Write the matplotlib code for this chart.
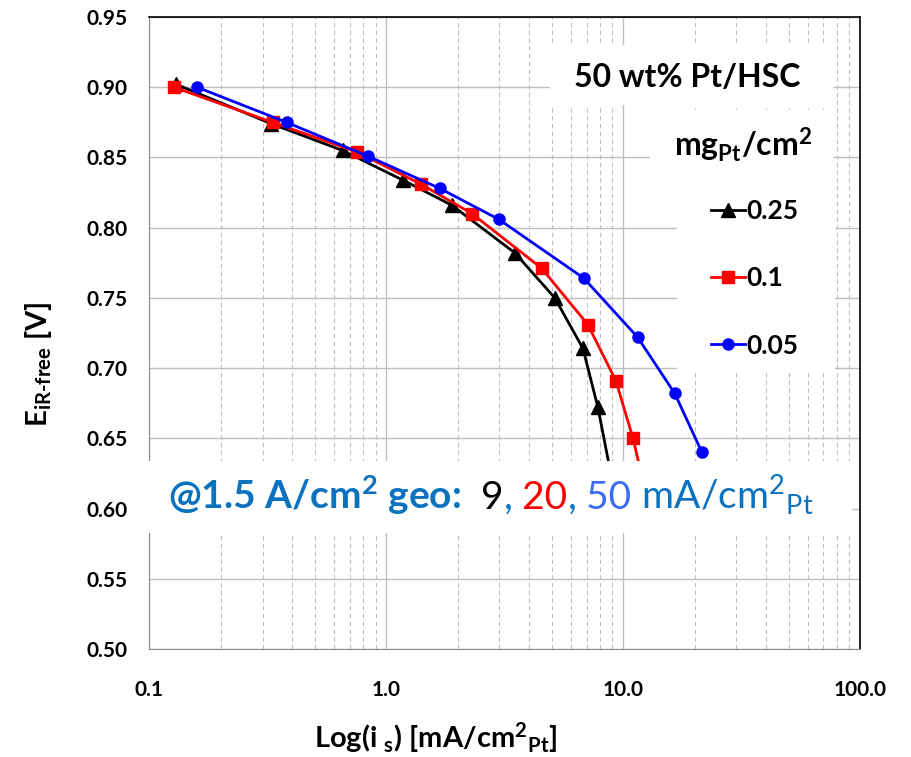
"""Tafel-type plot of iR-free voltage vs specific current, Pt/HSC loadings."""

import matplotlib

matplotlib.use("Agg")
import matplotlib.pyplot as plt
from matplotlib.patches import Rectangle

plt.rcParams["font.family"] = ["Lato", "DejaVu Sans"]
plt.rcParams["mathtext.default"] = "regular"

# data (mA/cm2_Pt, V)
is_025 = [0.130, 0.327, 0.653, 1.17, 1.89, 3.49, 5.14, 6.76, 7.82, 9.1]
e_025 = [0.902, 0.874, 0.855, 0.834, 0.816, 0.782, 0.750, 0.714, 0.672, 0.615]

is_010 = [0.127, 0.331, 0.749, 1.40, 2.30, 4.53, 7.09, 9.31, 11.0, 12.3]
e_010 = [0.900, 0.875, 0.854, 0.831, 0.810, 0.771, 0.731, 0.691, 0.650, 0.615]

is_005 = [0.159, 0.379, 0.834, 1.68, 2.98, 6.82, 11.5, 16.5, 21.5]
e_005 = [0.900, 0.875, 0.851, 0.828, 0.806, 0.764, 0.722, 0.682, 0.640]

series = [
    ("0.25", is_025, e_025, "black", "^", 10),
    ("0.1", is_010, e_010, "#ff0000", "s", 8),
    ("0.05", is_005, e_005, "#0000ff", "o", 8),
]

x_ticks = [0.1, 1, 10, 100]
x_tick_labels = ["0.1", "1.0", "10.0", "100.0"]
y_ticks = [0.50, 0.55, 0.60, 0.65, 0.70, 0.75, 0.80, 0.85, 0.90, 0.95]

fig = plt.figure(figsize=(9.11, 7.57), dpi=100)
ax = fig.add_axes([0.1641, 0.1427, 0.7800, 0.8348])

for label, xs, ys, color, marker, ms in series:
    ax.plot(xs, ys, color=color, lw=2, marker=marker, ms=ms, label=label, zorder=3)

ax.set_xscale("log")
ax.set_xlim(0.1, 100)
ax.set_ylim(0.50, 0.95)
ax.set_xticks(x_ticks, x_tick_labels)
ax.set_yticks(y_ticks, [f"{v:.2f}" for v in y_ticks])
ax.tick_params(which="both", length=0, labelsize=15)
ax.tick_params(axis="x", pad=22)
ax.tick_params(axis="y", pad=16)
for lab in ax.get_xticklabels() + ax.get_yticklabels():
    lab.set_fontweight("bold")

ax.grid(which="major", color="#bfbfbf", lw=1, ls="-")
ax.grid(which="minor", axis="x", color="#bfbfbf", lw=0.8, ls=(0, (4, 3)))
ax.set_axisbelow(True)
for side in ["left", "bottom"]:
    ax.spines[side].set_color("#8c8c8c")
for side in ["top", "right"]:
    ax.spines[side].set_color("black")
    ax.spines[side].set_linewidth(1.2)

ax.set_xlabel("Log(i $_s$) [mA/cm$^2$$_{Pt}$]", fontsize=21, fontweight="bold")
ax.xaxis.set_label_coords(0.403, -0.112)
ax.set_ylabel("E$_{iR\u2010free}$ [V]", fontsize=21, fontweight="bold")
ax.yaxis.set_label_coords(-0.135, 0.45)

# white boxes hiding the grid behind the annotations
boxes = [
    (0.563, 0.861, 0.399, 0.095, 2),
    (0.704, 0.745, 0.258, 0.108, 2),
    (0.742, 0.436, 0.223, 0.310, 2),
    (-0.012, 0.184, 1.0, 0.114, 5),
]
for bx, by, bw, bh, z in boxes:
    ax.add_patch(Rectangle((bx, by), bw, bh, transform=ax.transAxes,
                           facecolor="white", edgecolor="none", zorder=z,
                           clip_on=False))

ax.text(0.757, 0.905, "50 wt% Pt/HSC", transform=ax.transAxes, ha="center",
        va="center", fontsize=23, fontweight="bold", zorder=6)
ax.text(0.835, 0.797, "mg$_{Pt}$/cm$^2$", transform=ax.transAxes, ha="center",
        va="center", fontsize=23, fontweight="bold", zorder=6)

leg = ax.legend(loc="upper left", bbox_to_anchor=(0.79, 0.712), frameon=False,
                fontsize=19, handlelength=1.3, handletextpad=0.05,
                labelspacing=1.64, borderpad=0, borderaxespad=0)
for t in leg.get_texts():
    t.set_fontweight("bold")
leg.set_zorder(6)

# multi-coloured note under the curves
note_parts = [
    ("@1.5 A/cm$^2$ geo:", "#0b72bf", "bold"),
    ("  9", "black", "normal"),
    (",", "#0b72bf", "normal"),
    (" 20", "#ff0000", "normal"),
    (",", "#0b72bf", "normal"),
    (" 50", "#3d6cf5", "normal"),
    (" mA/cm$^2$$_{Pt}$", "#0b72bf", "normal"),
]
renderer = fig.canvas.get_renderer()
x_pos = 0.026
for text, color, weight in note_parts:
    t = ax.text(x_pos, 0.222, text, transform=ax.transAxes, color=color,
                fontsize=28, fontweight=weight, va="baseline", ha="left",
                zorder=7)
    bb = t.get_window_extent(renderer).transformed(ax.transAxes.inverted())
    x_pos = bb.x1

fig.savefig("out.png", dpi=100)
